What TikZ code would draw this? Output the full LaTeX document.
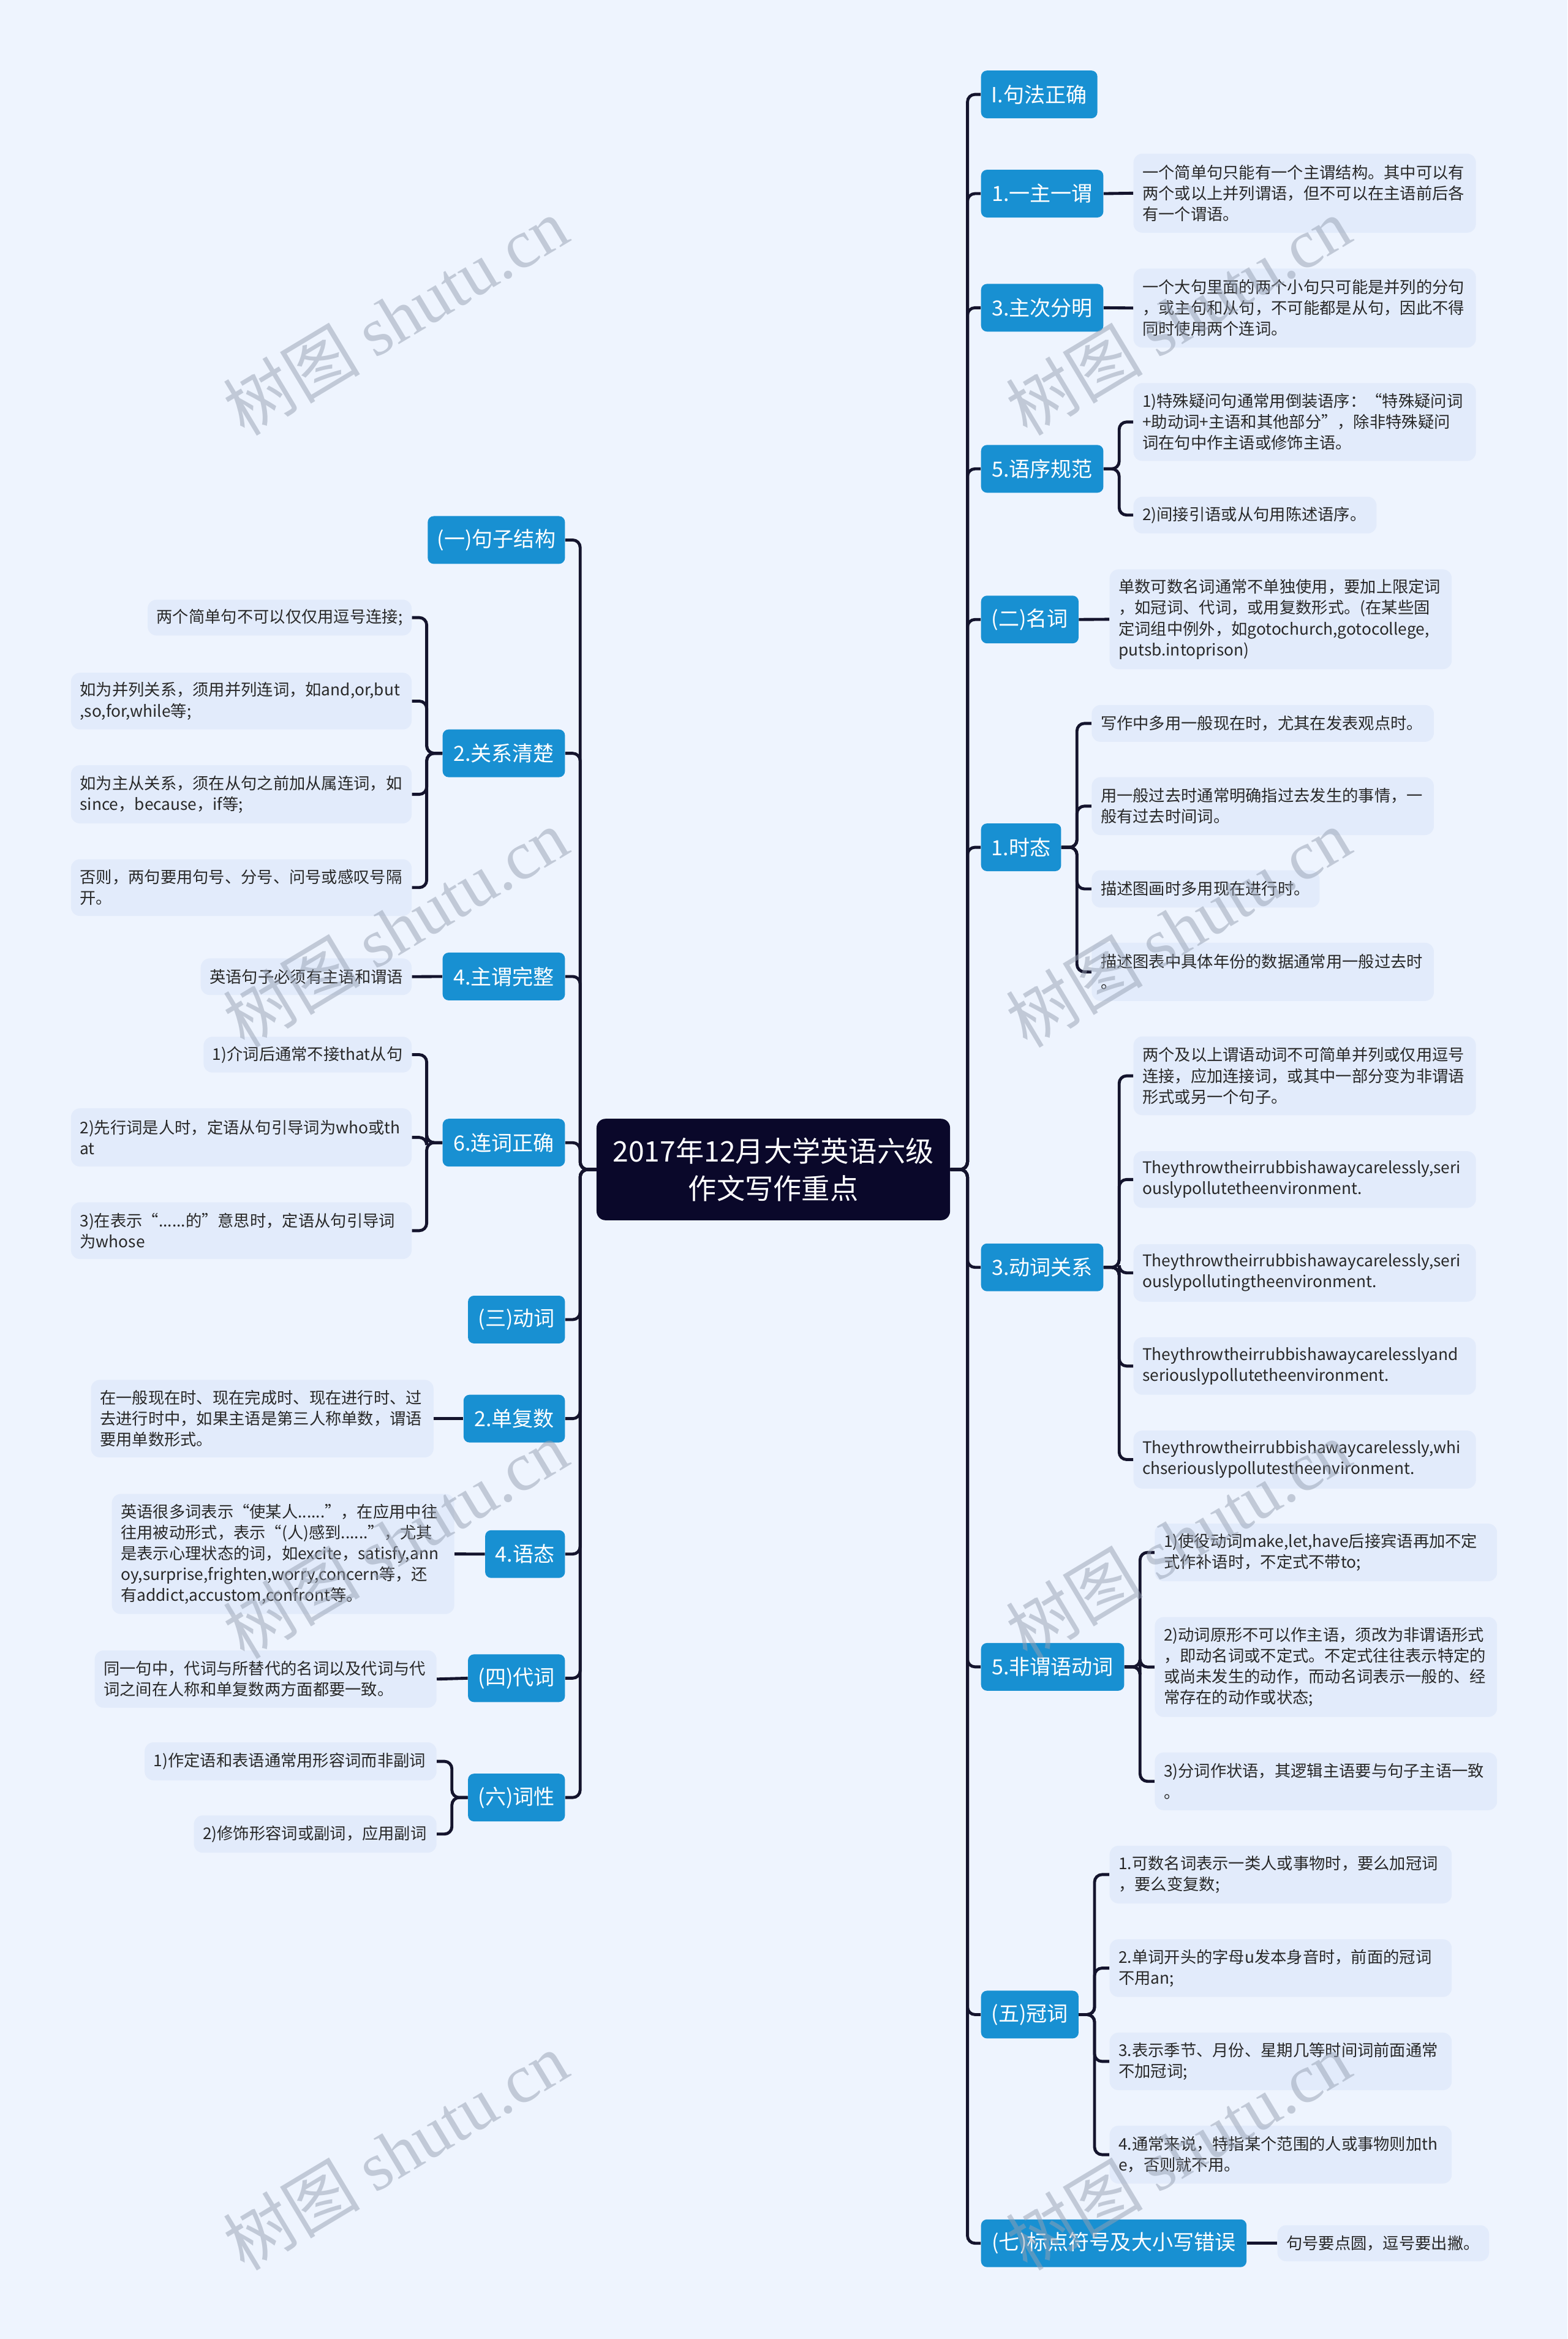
\documentclass[tikz,border=0pt]{standalone}
\usepackage{fontspec}
\setmainfont{Noto Sans CJK SC}
\newfontfamily\wmserif{Liberation Serif}
\definecolor{bgC}{RGB}{238,244,254}
\definecolor{blueC}{RGB}{24,144,210}
\definecolor{detC}{RGB}{226,235,251}
\definecolor{lineC}{RGB}{20,20,45}
\definecolor{rootC}{RGB}{10,8,42}
\definecolor{txtC}{RGB}{40,40,40}
\definecolor{wmC}{RGB}{150,160,178}
\tikzset{
  conn/.style={draw=lineC, line width=2pt, rounded corners=5pt},
  lvl/.style={fill=blueC, text=white, rounded corners=4pt, font=\fontsize{14}{17}\selectfont, minimum height=32pt, inner sep=0pt},
  det/.style={fill=detC, text=txtC, rounded corners=6pt, font=\fontsize{10.8}{14}\selectfont, inner xsep=6pt, inner ysep=0pt, align=left},
  rootbox/.style={fill=rootC, text=white, rounded corners=6pt, font=\fontsize{19}{25}\selectfont, align=center, inner sep=0pt},
  wm/.style={text=wmC, text opacity=0.5, rotate=31, font=\fontsize{46}{46}\selectfont}
}
\begin{document}
\begin{tikzpicture}[x=1pt,y=-1pt]
\fill[bgC] (0,0) rectangle (1051,1568);
\useasboundingbox (0,0) rectangle (1051,1568);

% root
\node[rootbox, minimum width=237pt, minimum height=68pt] (root) at (518.5,784) {2017年12月大学英语六级\\作文写作重点};

% left level-1
\node[lvl, anchor=east, minimum width=92pt] (A) at (379,362) {(一)句子结构};
\node[lvl, anchor=east, minimum width=82pt] (B) at (379,505) {2.关系清楚};
\node[lvl, anchor=east, minimum width=82pt] (C) at (379,654.6) {4.主谓完整};
\node[lvl, anchor=east, minimum width=82pt] (D) at (379,766) {6.连词正确};
\node[lvl, anchor=east, minimum width=65pt] (E) at (379,884.6) {(三)动词};
\node[lvl, anchor=east, minimum width=68pt] (F) at (379,951) {2.单复数};
\node[lvl, anchor=east, minimum width=53.5pt] (G) at (379,1041.8) {4.语态};
\node[lvl, anchor=east, minimum width=65pt] (H) at (379,1125) {(四)代词};
\node[lvl, anchor=east, minimum width=65pt] (I) at (379,1205) {(六)词性};

% right level-1
\node[lvl, anchor=west, minimum width=78pt] (R1) at (657.6,63.3) {I.句法正确};
\node[lvl, anchor=west, minimum width=82pt] (R2) at (657.6,129.8) {1.一主一谓};
\node[lvl, anchor=west, minimum width=82pt] (R3) at (657.6,206.3) {3.主次分明};
\node[lvl, anchor=west, minimum width=82pt] (R4) at (657.6,314.3) {5.语序规范};
\node[lvl, anchor=west, minimum width=65.4pt] (R5) at (657.6,415.3) {(二)名词};
\node[lvl, anchor=west, minimum width=53.7pt] (R6) at (657.6,568) {1.时态};
\node[lvl, anchor=west, minimum width=82pt] (R7) at (657.6,849.6) {3.动词关系};
\node[lvl, anchor=west, minimum width=96pt] (R8) at (657.6,1117.4) {5.非谓语动词};
\node[lvl, anchor=west, minimum width=65.4pt] (R9) at (657.6,1350.5) {(五)冠词};
\node[lvl, anchor=west, minimum width=178pt] (R10) at (657.6,1503.8) {(七)标点符号及大小写错误};

% left details
\node[det, text width=165pt, minimum height=24pt] (k1) at (187.5,414) {两个简单句不可以仅仅用逗号连接;};
\node[det, text width=216.4pt, minimum height=38pt] (k2) at (161.8,470) {如为并列关系，须用并列连词，如and,or,but\\,so,for,while等;};
\node[det, text width=216.4pt, minimum height=39pt] (k3) at (161.8,532.5) {如为主从关系，须在从句之前加从属连词，如\\since，because，if等;};
\node[det, text width=216.4pt, minimum height=38pt] (k4) at (161.8,595) {否则，两句要用句号、分号、问号或感叹号隔\\开。};
\node[det, text width=129.4pt, minimum height=24.5pt] (z1) at (205.3,654.75) {英语句子必须有主语和谓语};
\node[det, text width=127.5pt, minimum height=24pt] (j1) at (206.25,707) {1)介词后通常不接that从句};
\node[det, text width=216.4pt, minimum height=39pt] (j2) at (161.8,762.5) {2)先行词是人时，定语从句引导词为who或th\\at};
\node[det, text width=216.4pt, minimum height=38pt] (j3) at (161.8,825) {3)在表示“......的”意思时，定语从句引导词\\为whose};
\node[det, text width=217.7pt, minimum height=52pt] (s1) at (175.85,951) {在一般现在时、现在完成时、现在进行时、过\\去进行时中，如果主语是第三人称单数，谓语\\要用单数形式。};
\node[det, text width=217.6pt, minimum height=80.5pt] (y1) at (189.8,1041.75) {英语很多词表示“使某人......”，在应用中往\\往用被动形式，表示“(人)感到......”，尤其\\是表示心理状态的词，如excite，satisfy,ann\\oy,surprise,frighten,worry,concern等，还\\有addict,accustom,confront等。};
\node[det, text width=217.2pt, minimum height=38.4pt] (p1) at (178.1,1125.6) {同一句中，代词与所替代的名词以及代词与代\\词之间在人称和单复数两方面都要一致。};
\node[det, text width=183.7pt, minimum height=25.5pt] (c1) at (194.85,1180.75) {1)作定语和表语通常用形容词而非副词};
\node[det, text width=150.7pt, minimum height=25pt] (c2) at (211.35,1229.5) {2)修饰形容词或副词，应用副词};

% right details
\node[det, text width=217.6pt, minimum height=53pt] (a1) at (874.8,129.5) {一个简单句只能有一个主谓结构。其中可以有\\两个或以上并列谓语，但不可以在主语前后各\\有一个谓语。};
\node[det, text width=217.6pt, minimum height=53pt] (a3) at (874.8,206.5) {一个大句里面的两个小句只可能是并列的分句\\，或主句和从句，不可能都是从句，因此不得\\同时使用两个连词。};
\node[det, text width=217.6pt, minimum height=52.2pt] (a5a) at (874.8,282.9) {1)特殊疑问句通常用倒装语序：“特殊疑问词\\+助动词+主语和其他部分”，除非特殊疑问\\词在句中作主语或修饰主语。};
\node[det, text width=151pt, minimum height=24.6pt] (a5b) at (841.5,345.3) {2)间接引语或从句用陈述语序。};
\node[det, text width=217.4pt, minimum height=66.9pt] (n1) at (858.7,415.15) {单数可数名词通常不单独使用，要加上限定词\\，如冠词、代词，或用复数形式。(在某些固\\定词组中例外，如gotochurch,gotocollege,\\putsb.intoprison)};
\node[det, text width=217.4pt, minimum height=24.7pt] (t1) at (846.7,484.95) {写作中多用一般现在时，尤其在发表观点时。};
\node[det, text width=217.4pt, minimum height=38.8pt] (t2) at (846.7,540.4) {用一般过去时通常明确指过去发生的事情，一\\般有过去时间词。};
\node[det, text width=140.8pt, minimum height=25pt] (t3) at (808.4,595.9) {描述图画时多用现在进行时。};
\node[det, text width=217.4pt, minimum height=39pt] (t4) at (846.7,651.5) {描述图表中具体年份的数据通常用一般过去时\\。};
\node[det, text width=217.6pt, minimum height=52.8pt] (v1) at (874.8,721.2) {两个及以上谓语动词不可简单并列或仅用逗号\\连接，应加连接词，或其中一部分变为非谓语\\形式或另一个句子。};
\node[det, text width=217.6pt, minimum height=38pt] (v2) at (874.8,790.7) {Theythrowtheirrubbishawaycarelessly,seri\\ouslypollutetheenvironment.};
\node[det, text width=217.6pt, minimum height=38.6pt] (v3) at (874.8,853.3) {Theythrowtheirrubbishawaycarelessly,seri\\ouslypollutingtheenvironment.};
\node[det, text width=217.6pt, minimum height=38.5pt] (v4) at (874.8,915.75) {Theythrowtheirrubbishawaycarelesslyand\\seriouslypollutetheenvironment.};
\node[det, text width=217.6pt, minimum height=38.9pt] (v5) at (874.8,978.45) {Theythrowtheirrubbishawaycarelessly,whi\\chseriouslypollutestheenvironment.};
\node[det, text width=217.5pt, minimum height=38.6pt] (f1) at (889.05,1040.7) {1)使役动词make,let,have后接宾语再加不定\\式作补语时，不定式不带to;};
\node[det, text width=217.5pt, minimum height=67pt] (f2) at (889.05,1117.5) {2)动词原形不可以作主语，须改为非谓语形式\\，即动名词或不定式。不定式往往表示特定的\\或尚未发生的动作，而动名词表示一般的、经\\常存在的动作或状态;};
\node[det, text width=217.5pt, minimum height=38.7pt] (f3) at (889.05,1194.15) {3)分词作状语，其逻辑主语要与句子主语一致\\。};
\node[det, text width=217.4pt, minimum height=38.7pt] (g1) at (858.7,1256.65) {1.可数名词表示一类人或事物时，要么加冠词\\，要么变复数;};
\node[det, text width=217.4pt, minimum height=38.7pt] (g2) at (858.7,1319.35) {2.单词开头的字母u发本身音时，前面的冠词\\不用an;};
\node[det, text width=217.4pt, minimum height=38.6pt] (g3) at (858.7,1381.9) {3.表示季节、月份、星期几等时间词前面通常\\不加冠词;};
\node[det, text width=217.4pt, minimum height=38.8pt] (g4) at (858.7,1444.4) {4.通常来说，特指某个范围的人或事物则加th\\e，否则就不用。};
\node[det, text width=129.9pt, minimum height=24.2pt] (q1) at (927.45,1503.8) {句号要点圆，逗号要出撇。};

% root to level-1 (left)
\foreach \n in {A,B,C,D,E,F,G,H,I}
  \draw[conn] (root.west) -- ++(-10.8,0) |- (\n.east);
% root to level-1 (right)
\foreach \n in {R1,R2,R3,R4,R5,R6,R7,R8,R9,R10}
  \draw[conn] (root.east) -- ++(11.5,0) |- (\n.west);

% left level-1 to details
\foreach \n in {k1,k2,k3,k4}
  \draw[conn] (B.west) -- ++(-10.5,0) |- (\n.east);
\draw[conn] (C.west) -- (z1.east);
\foreach \n in {j1,j2,j3}
  \draw[conn] (D.west) -- ++(-10.5,0) |- (\n.east);
\draw[conn] (F.west) -- (s1.east);
\draw[conn] (G.west) -- (y1.east);
\draw[conn] (H.west) -- (p1.east);
\foreach \n in {c1,c2}
  \draw[conn] (I.west) -- ++(-10.6,0) |- (\n.east);

% right level-1 to details
\draw[conn] (R2.east) -- (a1.west);
\draw[conn] (R3.east) -- (a3.west);
\foreach \n in {a5a,a5b}
  \draw[conn] (R4.east) -- ++(10.4,0) |- (\n.west);
\draw[conn] (R5.east) -- (n1.west);
\foreach \n in {t1,t2,t3,t4}
  \draw[conn] (R6.east) -- ++(10.4,0) |- (\n.west);
\foreach \n in {v1,v2,v3,v4,v5}
  \draw[conn] (R7.east) -- ++(10.4,0) |- (\n.west);
\foreach \n in {f1,f2,f3}
  \draw[conn] (R8.east) -- ++(10.4,0) |- (\n.west);
\foreach \n in {g1,g2,g3,g4}
  \draw[conn] (R9.east) -- ++(10.5,0) |- (\n.west);
\draw[conn] (R10.east) -- (q1.west);

% watermarks
\foreach \wy [count=\i] in {212,622,1032,1442} {
  \node[wm] (wl\i) at (265,\wy) {树图 {\wmserif shutu.cn}};
  \node[wm] (wr\i) at (790,\wy) {树图 {\wmserif shutu.cn}};
}
\end{tikzpicture}
\end{document}
